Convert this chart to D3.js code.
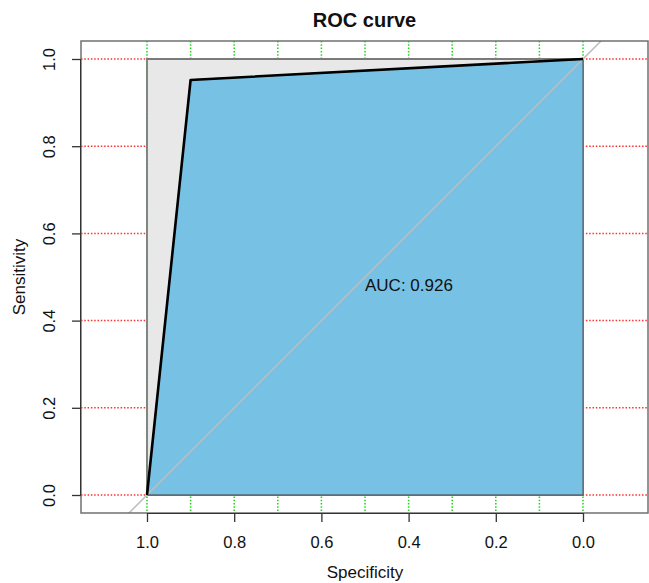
<!DOCTYPE html>
<html>
<head>
<meta charset="utf-8">
<script src="https://cdn.jsdelivr.net/npm/d3@7"></script>
<style>
  html, body { margin: 0; padding: 0; background: #fff; }
  svg { display: block; font-family: "Liberation Sans", Arial, sans-serif; }
</style>
</head>
<body>
<svg id="chart" width="649" height="583"></svg>
<script>
// ---- data ----
const specificity = [1.0, 0.9, 0.0];
const sensitivity = [0.0, 0.952, 1.0];
const xTicks = [1.0, 0.8, 0.6, 0.4, 0.2, 0.0];
const yTicks = [0.0, 0.2, 0.4, 0.6, 0.8, 1.0];
const vGrid = [0.0, 0.1, 0.2, 0.3, 0.4, 0.5, 0.6, 0.7, 0.8, 0.9, 1.0];
const hGrid = [0.0, 0.2, 0.4, 0.6, 0.8, 1.0];
const aucText = "AUC: 0.926";
const titleText = "ROC curve";
const xLabel = "Specificity";
const yLabel = "Sensitivity";

// ---- layout ----
const box = { left: 81, right: 648, top: 41, bottom: 513 };
const x = d3.scaleLinear().domain([1, 0]).range([147, 583]);
const y = d3.scaleLinear().domain([0, 1]).range([495, 59]);

const svg = d3.select("#chart");
svg.append("defs").append("clipPath").attr("id", "plotclip")
  .append("rect").attr("x", box.left).attr("y", box.top)
  .attr("width", box.right - box.left).attr("height", box.bottom - box.top);

const plot = svg.append("g").attr("clip-path", "url(#plotclip)");

// grid
plot.selectAll("line.vg").data(vGrid).join("line")
  .attr("x1", d => x(d)).attr("x2", d => x(d))
  .attr("y1", box.top).attr("y2", box.bottom)
  .attr("stroke", "#19d419").attr("stroke-width", 1.5)
  .attr("stroke-dasharray", "1.5,1.8");
plot.selectAll("line.hg").data(hGrid).join("line")
  .attr("x1", box.left).attr("x2", box.right)
  .attr("y1", d => y(d)).attr("y2", d => y(d))
  .attr("stroke", "#ff3030").attr("stroke-width", 1.5)
  .attr("stroke-dasharray", "1.5,1.8");

// max AUC polygon
const maxPoly = [[1, 0], [1, 1], [0, 1], [0, 0]];
plot.append("polygon")
  .attr("points", maxPoly.map(p => [x(p[0]), y(p[1])].join(",")).join(" "))
  .attr("fill", "#e8e8e8").attr("stroke", "#7a7a7a").attr("stroke-width", 1.8);

// AUC polygon
const rocPts = specificity.map((s, i) => [s, sensitivity[i]]);
const aucPoly = rocPts.concat([[0, 0]]);
plot.append("polygon")
  .attr("points", aucPoly.map(p => [x(p[0]), y(p[1])].join(",")).join(" "))
  .attr("fill", "#77c1e5").attr("stroke", "#5a6a72").attr("stroke-width", 1.3);

// identity line
plot.append("line")
  .attr("x1", x(1.2)).attr("y1", y(-0.2))
  .attr("x2", x(-0.2)).attr("y2", y(1.2))
  .attr("stroke", "#bdbdbd").attr("stroke-width", 1.5);

// ROC curve
plot.append("path")
  .attr("d", d3.line().x(d => x(d[0])).y(d => y(d[1]))(rocPts))
  .attr("fill", "none").attr("stroke", "#000").attr("stroke-width", 2.6)
  .attr("stroke-linejoin", "round");

// frame
svg.append("rect")
  .attr("x", box.left).attr("y", box.top)
  .attr("width", box.right - box.left).attr("height", box.bottom - box.top)
  .attr("fill", "none").attr("stroke", "#707070").attr("stroke-width", 1.5);

// x axis
const xa = svg.append("g").attr("transform", `translate(0,${box.bottom})`)
  .call(d3.axisBottom(x).tickValues(xTicks).tickFormat(d3.format(".1f")).tickSize(9).tickPadding(14));
xa.select(".domain").attr("stroke", "#333").attr("d", `M${x(1)},0.5H${x(0)}`);
xa.selectAll(".tick line").attr("stroke", "#333").attr("stroke-width", 1.3);
xa.selectAll(".tick text").attr("font-size", 16.5).attr("fill", "#111")
  .attr("font-family", "Liberation Sans, Arial, sans-serif");

// y axis
const ya = svg.append("g").attr("transform", `translate(${box.left},0)`)
  .call(d3.axisLeft(y).tickValues(yTicks).tickFormat(d3.format(".1f")).tickSize(9).tickPadding(0));
ya.select(".domain").attr("stroke", "#333").attr("d", `M-0.5,${y(0)}V${y(1)}`);
ya.selectAll(".tick line").attr("stroke", "#333").attr("stroke-width", 1.3);
ya.selectAll(".tick text")
  .attr("font-size", 16.5).attr("fill", "#111")
  .attr("font-family", "Liberation Sans, Arial, sans-serif")
  .attr("text-anchor", "middle").attr("dy", null)
  .attr("x", 0).attr("y", 0)
  .attr("transform", "translate(-30,0) rotate(-90)")
  .attr("dominant-baseline", "middle");

// AUC text
svg.append("text")
  .attr("x", x(0.5)).attr("y", y(0.5) + 14)
  .attr("font-size", 17).attr("fill", "#111")
  .text(aucText);

// title
svg.append("text")
  .attr("x", (box.left + box.right) / 2).attr("y", 27)
  .attr("text-anchor", "middle").attr("font-size", 20).attr("font-weight", "bold")
  .attr("fill", "#111").text(titleText);

// axis labels
svg.append("text")
  .attr("x", (x(1) + x(0)) / 2).attr("y", 578)
  .attr("text-anchor", "middle").attr("font-size", 17).attr("fill", "#111")
  .text(xLabel);
svg.append("text")
  .attr("transform", `translate(25,${(y(0) + y(1)) / 2}) rotate(-90)`)
  .attr("text-anchor", "middle").attr("font-size", 17).attr("fill", "#111")
  .text(yLabel);
</script>
</body>
</html>
